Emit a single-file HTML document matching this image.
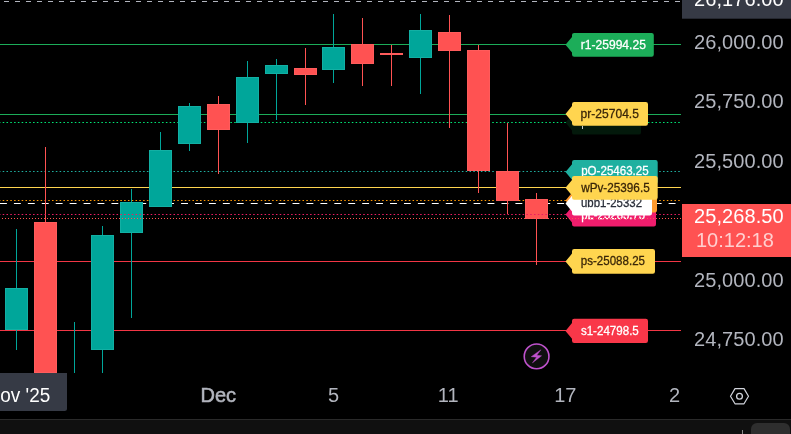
<!DOCTYPE html>
<html><head><meta charset="utf-8"><title>chart</title>
<style>
html,body{margin:0;padding:0;background:#000;}
body{width:791px;height:434px;overflow:hidden;position:relative;font-family:"Liberation Sans",sans-serif;}
svg{position:absolute;left:0;top:0;display:block;will-change:transform;}
text{font-family:"Liberation Sans",sans-serif;}
</style></head><body>
<svg width="791" height="434" viewBox="0 0 791 434">
<rect x="0" y="0" width="791" height="434" fill="#000"/>

<g shape-rendering="crispEdges">
<line x1="4" y1="1.5" x2="681" y2="1.5" stroke="#b2b5be" stroke-width="1" stroke-dasharray="5 6"/>
<rect x="0" y="44" width="681" height="1" fill="#1cad59"/>
<rect x="0" y="114" width="681" height="1" fill="#1cad59"/>
<rect x="0" y="187" width="681" height="1" fill="#ffd54f"/>
<rect x="0" y="261" width="681" height="1" fill="#f23645"/>
<rect x="0" y="330" width="681" height="1" fill="#f23645"/>
</g>
<line x1="0" y1="203.5" x2="680.5" y2="203.5" stroke="#ffffff" stroke-width="1" stroke-dasharray="6.9 7.03"/>
<line x1="-1.1" y1="122.5" x2="680.3" y2="122.5" stroke="#00e676" stroke-width="1" stroke-dasharray="1.55 2.245"/>
<line x1="-1.1" y1="171.5" x2="680.3" y2="171.5" stroke="#1fb0a0" stroke-width="1" stroke-dasharray="1.55 2.245"/>
<line x1="-1.1" y1="200.5" x2="680.3" y2="200.5" stroke="#ff9800" stroke-width="1" stroke-dasharray="1.55 2.245"/>
<g shape-rendering="crispEdges">
<rect x="16" y="229" width="1" height="121" fill="#00a69a"/>
<rect x="5" y="288" width="23" height="42" fill="#12b0a4"/>
<rect x="6" y="289" width="21" height="40" fill="#00a69a"/>
<rect x="45" y="147" width="1" height="226" fill="#ff5252"/>
<rect x="34" y="222" width="23" height="151" fill="#ff5c5c"/>
<rect x="35" y="223" width="21" height="149" fill="#ff5252"/>
<rect x="74" y="322" width="1" height="51" fill="#00a69a"/>
<rect x="102" y="226" width="1" height="147" fill="#00a69a"/>
<rect x="91" y="235" width="23" height="115" fill="#12b0a4"/>
<rect x="92" y="236" width="21" height="113" fill="#00a69a"/>
<rect x="131" y="189" width="1" height="129" fill="#00a69a"/>
<rect x="120" y="202" width="23" height="31" fill="#12b0a4"/>
<rect x="121" y="203" width="21" height="29" fill="#00a69a"/>
<rect x="160" y="132" width="1" height="75" fill="#00a69a"/>
<rect x="149" y="150" width="23" height="57" fill="#12b0a4"/>
<rect x="150" y="151" width="21" height="55" fill="#00a69a"/>
<rect x="189" y="103" width="1" height="48" fill="#00a69a"/>
<rect x="178" y="106" width="23" height="38" fill="#12b0a4"/>
<rect x="179" y="107" width="21" height="36" fill="#00a69a"/>
<rect x="218" y="96" width="1" height="78" fill="#ff5252"/>
<rect x="207" y="104" width="23" height="26" fill="#ff5c5c"/>
<rect x="208" y="105" width="21" height="24" fill="#ff5252"/>
<rect x="247" y="61" width="1" height="82" fill="#00a69a"/>
<rect x="236" y="77" width="23" height="46" fill="#12b0a4"/>
<rect x="237" y="78" width="21" height="44" fill="#00a69a"/>
<rect x="276" y="59" width="1" height="61" fill="#00a69a"/>
<rect x="265" y="65" width="23" height="9" fill="#12b0a4"/>
<rect x="266" y="66" width="21" height="7" fill="#00a69a"/>
<rect x="305" y="48" width="1" height="57" fill="#ff5252"/>
<rect x="294" y="68" width="23" height="7" fill="#ff5c5c"/>
<rect x="295" y="69" width="21" height="5" fill="#ff5252"/>
<rect x="333" y="14" width="1" height="69" fill="#00a69a"/>
<rect x="322" y="47" width="23" height="23" fill="#12b0a4"/>
<rect x="323" y="48" width="21" height="21" fill="#00a69a"/>
<rect x="362" y="18" width="1" height="68" fill="#ff5252"/>
<rect x="351" y="44" width="23" height="20" fill="#ff5c5c"/>
<rect x="352" y="45" width="21" height="18" fill="#ff5252"/>
<rect x="391" y="45" width="1" height="41" fill="#ff5252"/>
<rect x="380" y="53" width="23" height="2" fill="#ff5c5c"/>
<rect x="420" y="14" width="1" height="80" fill="#00a69a"/>
<rect x="409" y="30" width="23" height="28" fill="#12b0a4"/>
<rect x="410" y="31" width="21" height="26" fill="#00a69a"/>
<rect x="449" y="15" width="1" height="113" fill="#ff5252"/>
<rect x="438" y="32" width="23" height="19" fill="#ff5c5c"/>
<rect x="439" y="33" width="21" height="17" fill="#ff5252"/>
<rect x="478" y="45" width="1" height="148" fill="#ff5252"/>
<rect x="467" y="50" width="23" height="121" fill="#ff5c5c"/>
<rect x="468" y="51" width="21" height="119" fill="#ff5252"/>
<rect x="507" y="123" width="1" height="91" fill="#ff5252"/>
<rect x="496" y="171" width="23" height="30" fill="#ff5c5c"/>
<rect x="497" y="172" width="21" height="28" fill="#ff5252"/>
<rect x="536" y="193" width="1" height="72" fill="#ff5252"/>
<rect x="525" y="199" width="23" height="20" fill="#ff5c5c"/>
<rect x="526" y="200" width="21" height="18" fill="#ff5252"/>
</g>
<line x1="-1.1" y1="214.5" x2="680.3" y2="214.5" stroke="#e91e63" stroke-width="1" stroke-dasharray="1.55 2.245"/>
<path d="M565.5,44.8 L572,37.0 L572,35.1 Q572,32.9 574.2,32.9 L651.5999999999999,32.9 Q653.8,32.9 653.8,35.1 L653.8,54.49999999999999 Q653.8,56.699999999999996 651.5999999999999,56.699999999999996 L574.2,56.699999999999996 Q572,56.699999999999996 572,54.49999999999999 L572,52.599999999999994 Z" fill="#1cad59"/>
<text x="580.7" y="48.85" font-size="12.8" fill="#fff" stroke="#fff" stroke-width="0.3" textLength="65.2" lengthAdjust="spacingAndGlyphs">r1-25994.25</text>
<path d="M565.5,122.6 L572,114.8 L572,112.8 Q572,110.6 574.2,110.6 L638.8,110.6 Q641,110.6 641,112.8 L641,132.4 Q641,134.6 638.8,134.6 L574.2,134.6 Q572,134.6 572,132.4 L572,130.4 Z" fill="#03190b"/>
<rect x="582" y="126" width="1" height="3" fill="#c8ccd0"/>
<path d="M565.5,113.9 L572,106.10000000000001 L572,104.2 Q572,102.0 574.2,102.0 L645.8,102.0 Q648,102.0 648,104.2 L648,123.60000000000001 Q648,125.80000000000001 645.8,125.80000000000001 L574.2,125.80000000000001 Q572,125.80000000000001 572,123.60000000000001 L572,121.7 Z" fill="#ffd54f"/>
<text x="580.6" y="118.30" font-size="12.8" fill="#3a2608" stroke="#3a2608" stroke-width="0.3" textLength="58.3" lengthAdjust="spacingAndGlyphs">pr-25704.5</text>
<path d="M565.5,172.0 L572,164.2 L572,162.29999999999998 Q572,160.1 574.2,160.1 L655.5,160.1 Q657.7,160.1 657.7,162.29999999999998 L657.7,181.70000000000002 Q657.7,183.9 655.5,183.9 L574.2,183.9 Q572,183.9 572,181.70000000000002 L572,179.8 Z" fill="#1fb0a0"/>
<text x="581.2" y="175.05" font-size="12.8" fill="#fff" stroke="#fff" stroke-width="0.3" textLength="67.5" lengthAdjust="spacingAndGlyphs">pO-25463.25</text>
<path d="M565.5,214.6 L572,206.79999999999998 L572,204.89999999999998 Q572,202.7 574.2,202.7 L653.8,202.7 Q656,202.7 656,204.89999999999998 L656,224.3 Q656,226.5 653.8,226.5 L574.2,226.5 Q572,226.5 572,224.3 L572,222.4 Z" fill="#f01d6d"/>
<text x="581.2" y="218.50" font-size="12.8" fill="#fff" stroke="#fff" stroke-width="0.3" textLength="64" lengthAdjust="spacingAndGlyphs">pL-25285.75</text>
<path d="M565.5,200.5 L572,192.7 L572,190.79999999999998 Q572,188.6 574.2,188.6 L654.8,188.6 Q657,188.6 657,190.79999999999998 L657,210.20000000000002 Q657,212.4 654.8,212.4 L574.2,212.4 Q572,212.4 572,210.20000000000002 L572,208.3 Z" fill="#ff9a2e"/>
<path d="M565.5,203.6 L572,195.79999999999998 L572,193.89999999999998 Q572,191.7 574.2,191.7 L649.8,191.7 Q652,191.7 652,193.89999999999998 L652,213.3 Q652,215.5 649.8,215.5 L574.2,215.5 Q572,215.5 572,213.3 L572,211.4 Z" fill="#ffffff"/>
<text x="581.0" y="207.20" font-size="12.8" fill="#2a2e39" stroke="#2a2e39" stroke-width="0.3" textLength="61" lengthAdjust="spacingAndGlyphs">ubb1-25332</text>
<path d="M565.5,187.8 L572,180.0 L572,178.1 Q572,175.9 574.2,175.9 L655.5,175.9 Q657.7,175.9 657.7,178.1 L657.7,197.50000000000003 Q657.7,199.70000000000002 655.5,199.70000000000002 L574.2,199.70000000000002 Q572,199.70000000000002 572,197.50000000000003 L572,195.60000000000002 Z" fill="#ffd54f"/>
<text x="581.2" y="192.30" font-size="12.8" fill="#3a2608" stroke="#3a2608" stroke-width="0.3" textLength="68.5" lengthAdjust="spacingAndGlyphs">wPv-25396.5</text>
<path d="M565.5,261.4 L572,253.59999999999997 L572,251.19999999999996 Q572,248.99999999999997 574.2,248.99999999999997 L652.8,248.99999999999997 Q655,248.99999999999997 655,251.19999999999996 L655,271.59999999999997 Q655,273.79999999999995 652.8,273.79999999999995 L574.2,273.79999999999995 Q572,273.79999999999995 572,271.59999999999997 L572,269.2 Z" fill="#ffd54f"/>
<text x="580.8" y="265.20" font-size="12.8" fill="#3a2608" stroke="#3a2608" stroke-width="0.3" textLength="64.2" lengthAdjust="spacingAndGlyphs">ps-25088.25</text>
<path d="M565.5,330.9 L572,323.09999999999997 L572,320.99999999999994 Q572,318.79999999999995 574.2,318.79999999999995 L645.8,318.79999999999995 Q648,318.79999999999995 648,320.99999999999994 L648,340.8 Q648,343.0 645.8,343.0 L574.2,343.0 Q572,343.0 572,340.8 L572,338.7 Z" fill="#f93749"/>
<text x="580.9" y="335.30" font-size="12.8" fill="#fff" stroke="#fff" stroke-width="0.3" textLength="57.9" lengthAdjust="spacingAndGlyphs">s1-24798.5</text>
<g shape-rendering="crispEdges"><line x1="2" y1="218.5" x2="682" y2="218.5" stroke="#ff5252" stroke-width="1" stroke-dasharray="1 2"/></g>
<circle cx="536.6" cy="356.4" r="12.35" fill="#0f0f0f" stroke="#bf52cc" stroke-width="1.6"/>
<path d="M540.9,349.8 L531.2,356.7 L536.6,357.2 L532.4,362.9 L541.6,355.8 L536.8,355.2 Z" fill="#bf52cc" stroke="#bf52cc" stroke-width="0.4" stroke-linejoin="round"/>
<rect x="682" y="0" width="109" height="419" fill="#000"/>
<rect x="682" y="0" width="109" height="18.7" fill="#363a45"/>
<text x="694" y="6.2" font-size="20" fill="#fff" textLength="89.6" lengthAdjust="spacing" >26,176.00</text>
<text x="694" y="48.8" font-size="20" fill="#b2b5be" textLength="89.6" lengthAdjust="spacing" >26,000.00</text>
<text x="694" y="107.6" font-size="20" fill="#b2b5be" textLength="89.6" lengthAdjust="spacing" >25,750.00</text>
<text x="694" y="167.5" font-size="20" fill="#b2b5be" textLength="89.6" lengthAdjust="spacing" >25,500.00</text>
<text x="694" y="286.7" font-size="20" fill="#b2b5be" textLength="89.6" lengthAdjust="spacing" >25,000.00</text>
<text x="694" y="346.4" font-size="20" fill="#b2b5be" textLength="89.6" lengthAdjust="spacing" >24,750.00</text>
<rect x="682" y="204" width="109" height="53" fill="#ff5252"/>
<text x="694" y="223.3" font-size="20" fill="#fff" textLength="89.6" lengthAdjust="spacing" >25,268.50</text>
<text x="696" y="246.8" font-size="20" fill="#fff" fill-opacity="0.72">10:12:18</text>
<path d="M0,373 L67,373 L67,408.5 Q67,411 64.5,411 L0,411 Z" fill="#363a45"/>
<text x="0.3" y="401.5" font-size="20" fill="#fff" textLength="50" lengthAdjust="spacingAndGlyphs">ov '25</text>
<text x="218.3" y="401.6" font-size="20" fill="#b2b5be" text-anchor="middle" stroke="#b2b5be" stroke-width="0.55">Dec</text>
<text x="333.6" y="401.6" font-size="20" fill="#b2b5be" text-anchor="middle">5</text>
<text x="448.2" y="401.6" font-size="20" fill="#b2b5be" text-anchor="middle">11</text>
<text x="565.3" y="401.6" font-size="20" fill="#b2b5be" text-anchor="middle">17</text>
<text x="669" y="401.6" font-size="20" fill="#b2b5be">2</text>
<polygon points="748.50,396.20 744.00,403.80 735.00,403.80 730.50,396.20 735.00,388.60 744.00,388.60" fill="none" stroke="#d1d4dc" stroke-width="1.2" stroke-linejoin="round"/>
<circle cx="739.5" cy="396.2" r="2.9" fill="none" stroke="#d1d4dc" stroke-width="1.3"/>
<rect x="0" y="419" width="791" height="1" fill="#2a2a2a"/>
<rect x="0" y="420" width="791" height="14" fill="#101010"/>
<rect x="751" y="423" width="39" height="20" rx="6" ry="6" fill="#2e2e2e"/>
<rect x="742" y="430" width="1" height="4" fill="#8a8a8a"/>
</svg></body></html>
